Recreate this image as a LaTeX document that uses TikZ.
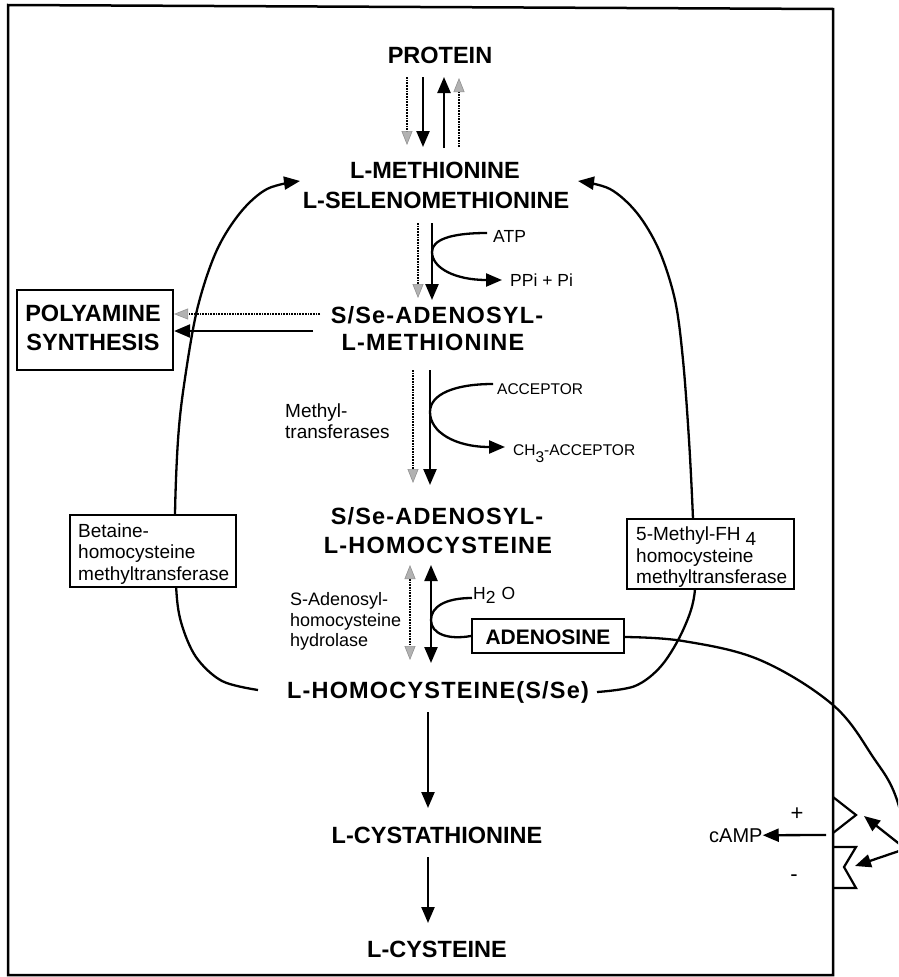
\documentclass[tikz,border=0pt]{standalone}
\usepackage{fontspec}
\setmainfont{Liberation Sans}
\newfontfamily\spaced[LetterSpace=5]{Liberation Sans}
\usetikzlibrary{arrows.meta}
\tikzset{
  shtip/.tip={Triangle[length=14pt,width=11pt,fill=gray!60,color=gray!85,line width=0.6pt]},
  bltip/.tip={Triangle[length=16pt,width=13pt]}
}
\begin{document}
\begin{tikzpicture}[x=1pt,y=-1pt,
  big/.style={font=\fontsize{23.5}{26}\selectfont\bfseries, inner sep=0pt, anchor=base},
  bigs/.style={font=\fontsize{23.5}{26}\spaced\bfseries, inner sep=0pt, anchor=base},
  sm/.style={font=\fontsize{17.5}{21}\selectfont, inner sep=0pt, anchor=base west},
  smb/.style={font=\fontsize{19}{22}\selectfont, inner sep=0pt, anchor=base west},
  ln/.style={line width=2.3pt},
  ar/.style={ln, -{bltip}},
  arr/.style={ln, {bltip}-{bltip}},
  sh/.style={line width=1.7pt, densely dotted, -{shtip}},
  shh/.style={line width=1.7pt, densely dotted, {shtip}-{shtip}},
  bx/.style={draw, line width=2.2pt, fill=white, inner sep=0pt}]
\clip (0,0) rectangle (898,977);
\fill[white] (0,0) rectangle (898,977);
% frame
\draw[line width=2.5pt] (8,5) -- (833,9) -- (833,975) -- (8,975) -- cycle;

% coordinates for curve ends
\coordinate (lmetL) at (300,181);
\coordinate (lmetR) at (578,181);
\coordinate (hcyL) at (258,690);
\coordinate (hcyR) at (597,692);

% big loops
\draw[ar] plot[smooth, tension=0.55] coordinates {(hcyL) (222,681) (196,657) (181,622) (176,585) (175,515) (178,440) (184,385) (197,310) (216,252) (240,213) (267,189) (lmetL)};
\draw[ar] plot[smooth, tension=0.55] coordinates {(hcyR) (635,686) (662,665) (684,628) (695,589) (693,519) (689,440) (683,360) (675,300) (659,250) (637,213) (610,189) (lmetR)};

% adenosine curve
\coordinate (adoR) at (624,637);
\draw[ln] plot[smooth, tension=0.6] coordinates {(adoR) (683,641) (760,660) (833,705) (873,757) (897,800) (915,880)};

% boxes
\node[bx, minimum width=156pt, minimum height=80pt] (polybox) at (95,330) {};
\node[bx, minimum width=166pt, minimum height=72pt] (betbox) at (153,551) {};
\node[bx, minimum width=167pt, minimum height=70pt] (mthbox) at (710.5,554) {};
\node[bx, minimum width=152pt, minimum height=34pt] (adobox) at (548,636) {};

% main labels
\node[big] (prot) at (440,63) {PROTEIN};
\node[big] (met1) at (435,178) {L-METHIONINE};
\node[big] (met2) at (436,208) {L-SELENOMETHIONINE};
\node[bigs] (sam1) at (437,323) {S/Se-ADENOSYL-};
\node[bigs] (sam2) at (433,350) {L-METHIONINE};
\node[bigs] (sah1) at (437,524) {S/Se-ADENOSYL-};
\node[bigs] (sah2) at (438,553) {L-HOMOCYSTEINE};
\node[bigs] (hcy) at (438,698) {L-HOMOCYSTEINE(S/Se)};
\node[big] (cysta) at (437,843) {L-CYSTATHIONINE};
\node[big] (cys) at (437,957) {L-CYSTEINE};
\node[big] (poly1) at (93,321) {POLYAMINE};
\node[big] (poly2) at (93,350) {SYNTHESIS};
\node[font=\fontsize{21}{24}\selectfont\bfseries, inner sep=0pt, anchor=base] (ado) at (548,644) {ADENOSINE};

% small labels
\node[sm] (atp) at (493,242) {ATP};
\node[sm] (ppi) at (510,286) {PPi + Pi};
\node[sm, font=\fontsize{15.5}{18}\selectfont] (acc) at (497,394) {ACCEPTOR};
\node[sm, font=\fontsize{15.5}{18}\selectfont] (ch3) at (513,455) {CH\raisebox{-7pt}{3}-ACCEPTOR};
\node[smb] (mt1) at (285,417) {Methyl-};
\node[smb] (mt2) at (285,438) {transferases};
\node[sm] (h2o) at (473,599) {H\raisebox{-4pt}{2}\hspace{6pt}O};
\node[sm, font=\fontsize{18}{21}\selectfont] (hyd1) at (290,605) {S-Adenosyl-};
\node[sm, font=\fontsize{18}{21}\selectfont] (hyd2) at (290,626) {homocysteine};
\node[sm, font=\fontsize{18}{21}\selectfont] (hyd3) at (290,646) {hydrolase};
\node[smb] (bet1) at (78,537) {Betaine-};
\node[smb] (bet2) at (78,558) {homocysteine};
\node[smb] (bet3) at (78,580) {methyltransferase};
\node[smb] (mf1) at (636,540) {5-Methyl-FH\hspace{5pt}\raisebox{-5pt}{4}};
\node[smb] (mf2) at (636,562) {homocysteine};
\node[smb] (mf3) at (636,583) {methyltransferase};
\node[sm, font=\fontsize{20}{24}\selectfont] (camp) at (709,842) {cAMP};
\node[sm, font=\fontsize{22}{24}\selectfont, anchor=center] (plus) at (797,814) {+};
\node[sm, font=\fontsize{22}{24}\selectfont, anchor=center] (minus) at (794,878) {-};

% protein <-> methionine
\draw[sh] (407,77) -- (407,145);
\draw[ar] (423,77) -- (423,147);
\draw[ar] (444,148) -- (444,77);
\draw[sh] (459,147) -- (459,78);

% methionine -> SAM
\draw[sh] (418,223) -- (418,298);
\draw[ar] (432,223) -- (432,300);
\draw[ln] (487,233) .. controls (450,233) and (432,240) .. (432,252);
\draw[ar] (432,252) .. controls (432,268) and (455,280) .. (502,280);

% SAM -> polyamine
\draw[sh] (320,314) -- (polybox.east |- 0,314);
\draw[ar] (313,331) -- (polybox.east |- 0,331);

% SAM -> SAH
\draw[sh] (413,370) -- (413,483);
\draw[ar] (430,370) -- (430,485);
\draw[ln] (493,384) .. controls (455,384) and (430,394) .. (430,412);
\draw[ar] (430,412) .. controls (430,432) and (455,447) .. (505,447);

% SAH <-> Hcy
\draw[shh] (410,565) -- (410,660);
\draw[arr] (431,565) -- (431,663);
\draw[ln] (472,598) .. controls (445,598) and (431,607) .. (431,620);
\draw[ln] (431,620) .. controls (431,634) and (448,640) .. (adobox.west);

% Hcy -> cystathionine -> cysteine
\draw[ar] (428,712) -- (428,808);
\draw[ar] (428,857) -- (428,923);

% receptor
\draw[line width=2.2pt, line join=miter] (833,797) -- (856,815) -- (833,833);
\draw[line width=2.2pt, line join=miter] (833,847) -- (856,847) -- (844,867) -- (856,888) -- (833,888);
\draw[ar] (826,835) -- (camp.east);
\coordinate (r1) at (902,846);
\coordinate (r2) at (902,850);
\draw[ar] (r1) -- (864,816);
\draw[ar] (r2) -- (855,866);
\end{tikzpicture}
\end{document}
